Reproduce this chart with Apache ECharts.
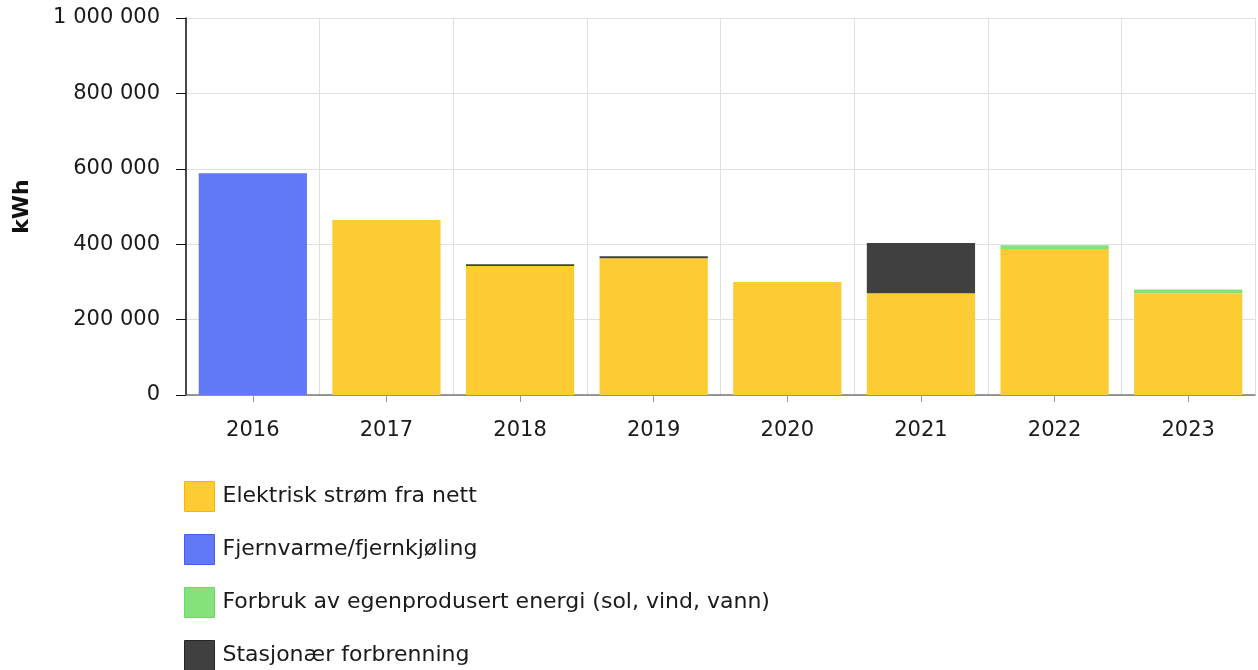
<!DOCTYPE html>
<html>
<head>
<meta charset="utf-8">
<script src="https://cdn.jsdelivr.net/npm/echarts@6/dist/echarts.min.js"></script>
<style>
  html, body { margin: 0; padding: 0; background: #fff; }
  #chart { width: 1258px; height: 670px; }
</style>
</head>
<body>
<div id="chart"></div>
<script>
// data
var years = ['2016', '2017', '2018', '2019', '2020', '2021', '2022', '2023'];
var stromNett = [0, 464000, 342000, 363000, 300000, 270000, 387000, 270000];
var fjernvarme = [588000, 0, 0, 0, 0, 0, 0, 0];
var egenprodusert = [0, 0, 0, 0, 0, 0, 10000, 10000];
var forbrenning = [0, 0, 5000, 5000, 0, 133000, 0, 0];

var names = [
  'Elektrisk strøm fra nett',
  'Fjernvarme/fjernkjøling',
  'Forbruk av egenprodusert energi (sol, vind, vann)',
  'Stasjonær forbrenning'
];
var colors = ['#fdcb33', '#6178f7', '#85e27a', '#404040'];
var borders = ['#f5b800', '#3f5ef2', '#6fd763', '#262626'];

function fmt(v) {
  return String(v).replace(/\B(?=(\d{3})+(?!\d))/g, ' ');
}

var chart = echarts.init(document.getElementById('chart'));

function bar(i, data) {
  return {
    name: names[i],
    type: 'bar',
    stack: 'total',
    data: data,
    barCategoryGap: '19%',
    itemStyle: { color: colors[i] }
  };
}

var option = {
  animation: false,
  textStyle: { fontFamily: 'DejaVu Sans' },
  grid: { left: 186, top: 18, right: 3, bottom: 275, containLabel: false },
  legend: {
    orient: 'vertical',
    left: 184,
    top: 481,
    height: 400,
    padding: 0,
    itemWidth: 30,
    itemHeight: 30,
    itemGap: 22,
    icon: 'rect',
    textStyle: { fontSize: 22, color: '#1a1a1a', fontFamily: 'DejaVu Sans', padding: [0, 0, 0, 3] },
    data: names.map(function (n, i) {
      return { name: n, itemStyle: { color: colors[i], borderColor: borders[i], borderWidth: 1 } };
    })
  },
  xAxis: {
    type: 'category',
    data: years,
    axisLine: { lineStyle: { color: '#777', width: 1.5 } },
    axisTick: { show: true, alignWithLabel: true, length: 7, lineStyle: { color: '#999' } },
    axisLabel: { fontSize: 21, color: '#1a1a1a', margin: 25 },
    splitLine: { show: true, lineStyle: { color: '#e0e0e0' } }
  },
  yAxis: {
    type: 'value',
    min: 0,
    max: 1000000,
    interval: 200000,
    name: 'kWh',
    nameLocation: 'middle',
    nameGap: 153,
    nameTextStyle: { fontSize: 22, fontWeight: 'bold', color: '#111' },
    axisLine: { show: true, lineStyle: { color: '#111', width: 1.5 } },
    axisTick: { show: true, length: 10, lineStyle: { color: '#111' } },
    axisLabel: { fontSize: 21, color: '#1a1a1a', margin: 26, formatter: fmt },
    splitLine: { show: true, lineStyle: { color: '#e0e0e0' } }
  },
  series: [
    bar(0, stromNett),
    bar(1, fjernvarme),
    bar(2, egenprodusert),
    bar(3, forbrenning)
  ]
};

option && chart.setOption(option);
</script>
</body>
</html>
